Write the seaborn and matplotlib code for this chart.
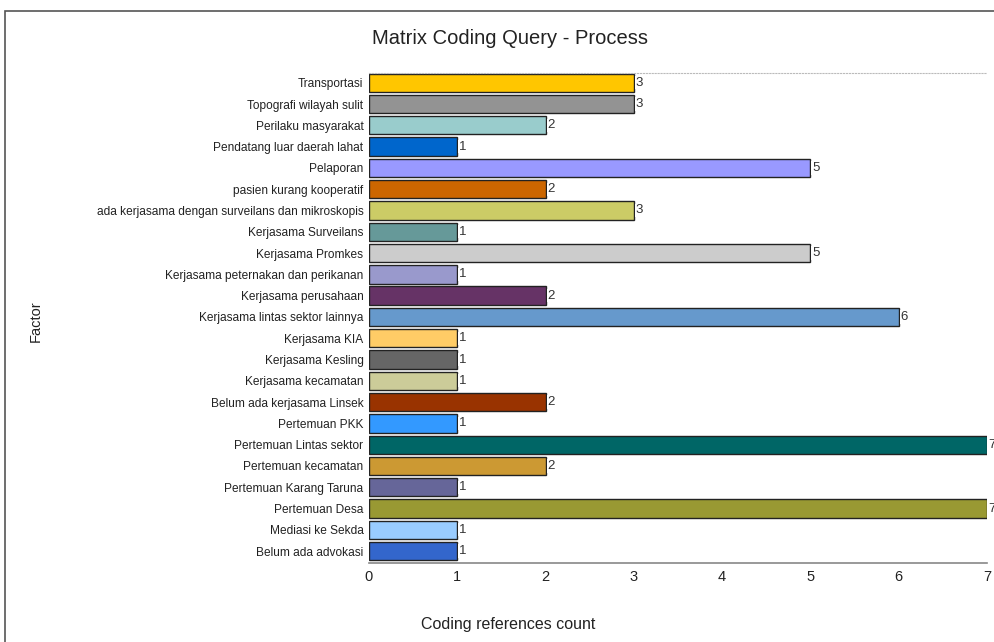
import matplotlib
matplotlib.use("Agg")
import matplotlib.pyplot as plt
import seaborn as sns
import pandas as pd
from matplotlib.patches import Rectangle

factors = [
    "Transportasi", "Topografi wilayah sulit", "Perilaku masyarakat",
    "Pendatang luar daerah lahat", "Pelaporan", "pasien kurang kooperatif",
    "ada kerjasama dengan surveilans dan mikroskopis", "Kerjasama Surveilans",
    "Kerjasama Promkes", "Kerjasama peternakan dan perikanan",
    "Kerjasama perusahaan", "Kerjasama lintas sektor lainnya", "Kerjasama KIA",
    "Kerjasama Kesling", "Kerjasama kecamatan", "Belum ada kerjasama Linsek",
    "Pertemuan PKK", "Pertemuan Lintas sektor", "Pertemuan kecamatan",
    "Pertemuan Karang Taruna", "Pertemuan Desa", "Mediasi ke Sekda",
    "Belum ada advokasi",
]
counts = [3, 3, 2, 1, 5, 2, 3, 1, 5, 1, 2, 6, 1, 1, 1, 2, 1, 7, 2, 1, 7, 1, 1]
colors = [
    "#FFC600", "#939393", "#99CCCC", "#0066CC", "#9999FF", "#CC6600",
    "#CCCC66", "#669999", "#CCCCCC", "#9999CC", "#663366", "#6699CC",
    "#FFCC66", "#666666", "#CCCC99", "#993300", "#3399FF", "#006666",
    "#CC9933", "#666699", "#999933", "#99CCFF", "#3366CC",
]
xticks = [0, 1, 2, 3, 4, 5, 6, 7]

df = pd.DataFrame({"Factor": factors, "Count": counts})

sns.set_style("white")
plt.rcParams["font.family"] = ["Liberation Sans", "DejaVu Sans"]

fig = plt.figure(figsize=(9.94, 6.42), dpi=100)
ax = fig.add_axes([0.3712, 0.123, 0.6217, 0.763])

sns.barplot(data=df, y="Factor", x="Count", hue="Factor",
            palette=dict(zip(factors, colors)), legend=False,
            orient="h", width=0.86, edgecolor="#222222", linewidth=1.0,
            saturation=1, ax=ax)

for i, v in enumerate(counts):
    ax.text(v + 0.02, i, str(v), va="center", ha="left", fontsize=9.5,
            color="#333333", clip_on=False,
            bbox=dict(facecolor="white", edgecolor="none", pad=0.5))

ax.set_xlim(0, 7)
ax.set_ylim(22.56, -0.45)
ax.set_xticks(xticks)
ax.set_xticklabels([str(t) for t in xticks], fontsize=10.5, color="#222222")
ax.tick_params(axis="y", labelsize=8.6, length=0, pad=4, colors="#222222")
ax.tick_params(axis="x", length=0, pad=5)
for s in ["left", "right"]:
    ax.spines[s].set_visible(False)
ax.spines["top"].set_color("#bbbbbb")
ax.spines["top"].set_linestyle(":")
ax.spines["top"].set_linewidth(0.8)
ax.spines["bottom"].set_color("#888888")
ax.spines["bottom"].set_linewidth(1.2)
ax.set_xlabel("")
ax.set_ylabel("")

fig.text(0.513, 0.94, "Matrix Coding Query - Process", ha="center",
         va="center", fontsize=14.5, color="#222222")
fig.text(0.511, 0.027, "Coding references count", ha="center",
         va="center", fontsize=11.5, color="#222222")
fig.text(0.036, 0.5, "Factor", ha="center", va="center", rotation=90,
         fontsize=10.5, color="#222222")

fig.patches.append(Rectangle((0.005, -0.1), 1.2, 1.0829, transform=fig.transFigure,
                             fill=False, edgecolor="#555555", linewidth=1.2))

fig.savefig("out.png", dpi=100)
